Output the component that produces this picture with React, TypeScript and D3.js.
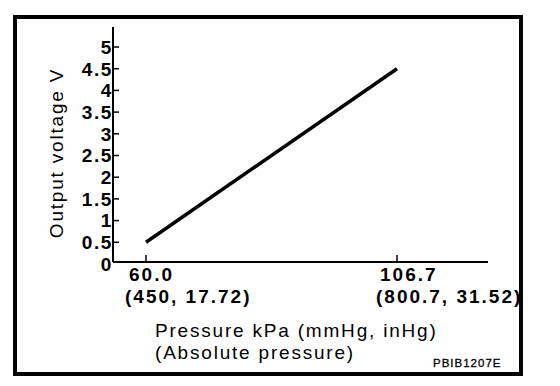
import { useRef, useEffect } from 'react';
import * as d3 from 'd3';

// sensor output: pressure (kPa) -> voltage (V)
const pressureKpa = [60.0, 106.7];
const outputVolts = [0.5, 4.5];
const pressureLabels = ['60.0', '106.7'];
const pressureAltLabels = ['(450, 17.72)', '(800.7, 31.52)'];
const voltTicks = [0, 0.5, 1, 1.5, 2, 2.5, 3, 3.5, 4, 4.5, 5];

const FONT = '"Liberation Sans", Arial, Helvetica, sans-serif';

export default function App() {
  const ref = useRef<SVGSVGElement>(null);

  useEffect(() => {
    if (!ref.current) return;
    const svg = d3.select(ref.current);
    svg.selectAll('*').remove();

    const x = d3.scaleLinear().domain([60, 106.7]).range([146, 397]);
    const y = d3.scaleLinear().domain([0, 5]).range([264, 47]);
    const axisX = 113;
    const axisY = 262;

    // frame
    svg.append('rect')
      .attr('x', 15).attr('y', 17)
      .attr('width', 506).attr('height', 357)
      .attr('fill', 'white')
      .attr('stroke', 'black')
      .attr('stroke-width', 4);

    // y axis
    svg.append('line')
      .attr('x1', axisX).attr('x2', axisX)
      .attr('y1', 27).attr('y2', axisY)
      .attr('stroke', 'black').attr('stroke-width', 2);

    const yt = svg.append('g');
    yt.selectAll('line').data(voltTicks.filter(v => v > 0)).join('line')
      .attr('x1', axisX).attr('x2', axisX + 6)
      .attr('y1', d => y(d)).attr('y2', d => y(d))
      .attr('stroke', 'black').attr('stroke-width', 1.5);
    yt.selectAll('text').data(voltTicks).join('text')
      .attr('x', axisX)
      .attr('y', d => y(d))
      .attr('dy', '0.36em')
      .attr('text-anchor', 'end')
      .style('font-family', FONT)
      .style('font-weight', 'bold')
      .style('font-size', '19px')
      .style('letter-spacing', '1.6px')
      .text(d => String(d));

    // x axis
    svg.append('line')
      .attr('x1', axisX).attr('x2', 488)
      .attr('y1', axisY).attr('y2', axisY)
      .attr('stroke', 'black').attr('stroke-width', 2);

    const xt = svg.append('g');
    xt.selectAll('line').data(pressureKpa).join('line')
      .attr('x1', d => x(d)).attr('x2', d => x(d))
      .attr('y1', axisY).attr('y2', axisY - 7)
      .attr('stroke', 'black').attr('stroke-width', 1.5);
    xt.selectAll('text.main').data(pressureKpa).join('text')
      .attr('class', 'main')
      .attr('x', d => x(d) - 17)
      .attr('y', 281)
      .style('font-family', FONT)
      .style('font-weight', 'bold')
      .style('font-size', '19px')
      .style('letter-spacing', '2px')
      .text((_, i) => pressureLabels[i]);
    xt.selectAll('text.alt').data(pressureKpa).join('text')
      .attr('class', 'alt')
      .attr('x', d => x(d) - 21)
      .attr('y', 303)
      .style('font-family', FONT)
      .style('font-weight', 'bold')
      .style('font-size', '19px')
      .style('letter-spacing', '2px')
      .text((_, i) => pressureAltLabels[i]);

    // axis titles
    const title = (sel: d3.Selection<SVGTextElement, unknown, null, undefined>) =>
      sel.style('font-family', FONT)
        .style('font-size', '19px')
        .style('letter-spacing', '1.8px');

    svg.append('text').attr('x', 155).attr('y', 337)
      .call(title).text('Pressure kPa (mmHg, inHg)');
    svg.append('text').attr('x', 155).attr('y', 359)
      .call(title).text('(Absolute pressure)');
    svg.append('text')
      .attr('transform', 'translate(63,153) rotate(-90)')
      .attr('text-anchor', 'middle')
      .call(title).text('Output voltage V');

    svg.append('text').attr('x', 433).attr('y', 367)
      .style('font-family', FONT)
      .style('font-size', '11.5px')
      .style('letter-spacing', '1px')
      .style('stroke', 'black')
      .style('stroke-width', 0.3)
      .text('PBIB1207E');

    // characteristic line
    const pts = pressureKpa.map((p, i) => [p, outputVolts[i]] as [number, number]);
    svg.append('path')
      .datum(pts)
      .attr('d', d3.line<[number, number]>().x(d => x(d[0])).y(d => y(d[1])))
      .attr('fill', 'none')
      .attr('stroke', 'black')
      .attr('stroke-width', 3.5);
  }, []);

  return (
    <svg
      ref={ref}
      width={560}
      height={386}
      style={{ position: 'fixed', left: 0, top: 0, background: 'white' }}
    />
  );
}
